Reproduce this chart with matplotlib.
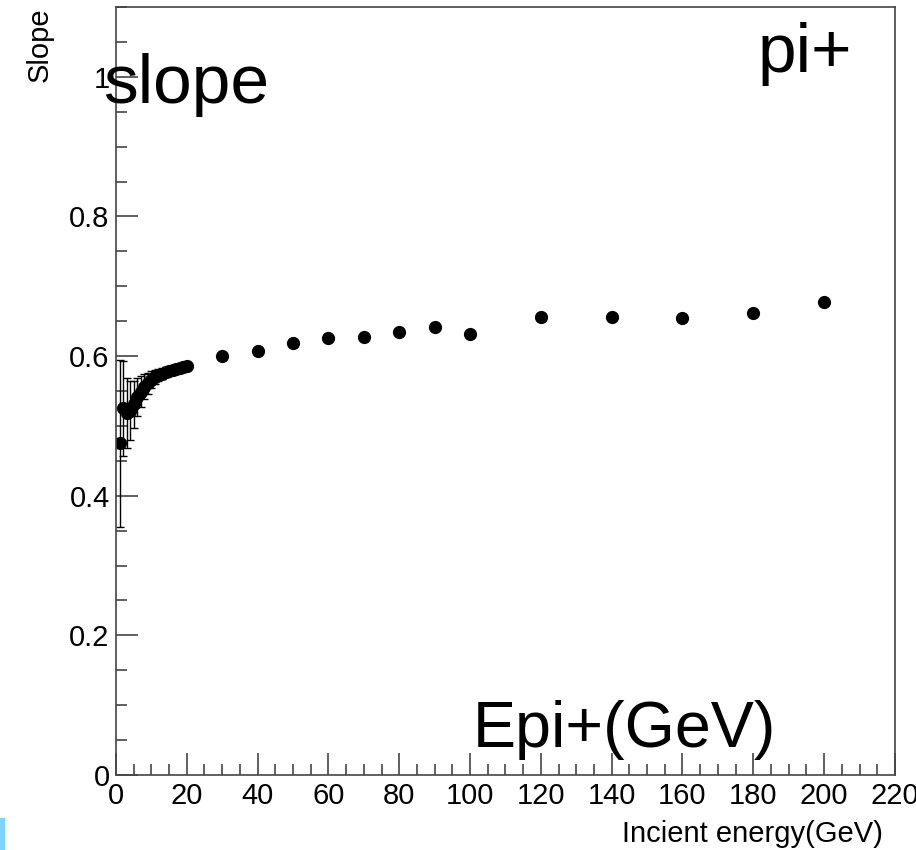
import numpy as np
import matplotlib
matplotlib.use('Agg')
import matplotlib.pyplot as plt
from matplotlib.ticker import MultipleLocator, FixedLocator
from matplotlib.patches import Rectangle

plt.rcParams['font.family'] = ['Liberation Sans', 'DejaVu Sans']

# beam energy (GeV) and fitted slope
energy = [1, 2, 3, 4, 5, 6, 7, 8, 9, 10, 11, 12, 13, 14, 15, 16, 17, 18, 19, 20,
          30, 40, 50, 60, 70, 80, 90, 100, 120, 140, 160, 180, 200]
slope = [0.475, 0.525, 0.518, 0.522, 0.531, 0.541, 0.549, 0.556, 0.561, 0.566,
         0.570, 0.573, 0.575, 0.577, 0.579, 0.580, 0.582, 0.583, 0.584, 0.586,
         0.600, 0.608, 0.619, 0.626, 0.628, 0.635, 0.641, 0.631,
         0.656, 0.656, 0.654, 0.661, 0.678]
slope_err = [0.12, 0.068, 0.05, 0.042, 0.034, 0.027, 0.022, 0.018, 0.015, 0.012,
             0.010, 0.009, 0.008, 0.007, 0.006, 0.006, 0.005, 0.005, 0.004, 0.004,
             0.003, 0.003, 0.003, 0.003, 0.003, 0.003, 0.003, 0.003,
             0.002, 0.002, 0.002, 0.002, 0.002]

y_ticks = [0, 0.2, 0.4, 0.6, 0.8, 1.0]
y_ticklabels = ['0', '0.2', '0.4', '0.6', '0.8', '1']

fig = plt.figure(figsize=(9.16, 8.5), dpi=100)
ax = fig.add_axes([0.1266, 0.0882, 0.8504, 0.9036])

ax.errorbar(energy, slope, yerr=slope_err, fmt='o', color='black',
            markersize=8.5, elinewidth=1, capsize=3, capthick=1)

ax.set_xlim(0, 220)
ax.set_ylim(0, 1.1)
ax.xaxis.set_major_locator(MultipleLocator(20))
ax.xaxis.set_minor_locator(MultipleLocator(5))
ax.yaxis.set_major_locator(FixedLocator(y_ticks))
ax.set_yticklabels(y_ticklabels)
ax.yaxis.set_minor_locator(MultipleLocator(0.05))

ax.tick_params(which='both', direction='in', top=False, right=False,
               labelsize=21, color='#444444', width=1.2)
ax.tick_params(which='major', length=15.8)
ax.tick_params(which='minor', length=7.9)
ax.tick_params(axis='y', pad=4.5)
ax.tick_params(axis='x', pad=5)
for s in ax.spines.values():
    s.set_color('#444444')
    s.set_linewidth(1.2)

ax.set_xlabel('Incient energy(GeV)', fontsize=21, ha='right')
ax.xaxis.set_label_coords(0.984, -0.058)
ax.set_ylabel('Slope', fontsize=21, loc='top', labelpad=11)

W, H = 916, 850
fig.text(103 / W, 1 - 103 / H, 'slope', fontsize=50, va='baseline', ha='left')
fig.text(852 / W, 1 - 72 / H, 'pi+', fontsize=50, va='baseline', ha='right')
fig.text(473 / W, 1 - 747 / H, 'Epi+(GeV)', fontsize=46.5, va='baseline', ha='left')

fig.patches.append(Rectangle((0, 0), 5 / W, 32 / H, transform=fig.transFigure,
                             facecolor='#7fd3ff', edgecolor='none'))

fig.savefig('out.png', dpi=100)
